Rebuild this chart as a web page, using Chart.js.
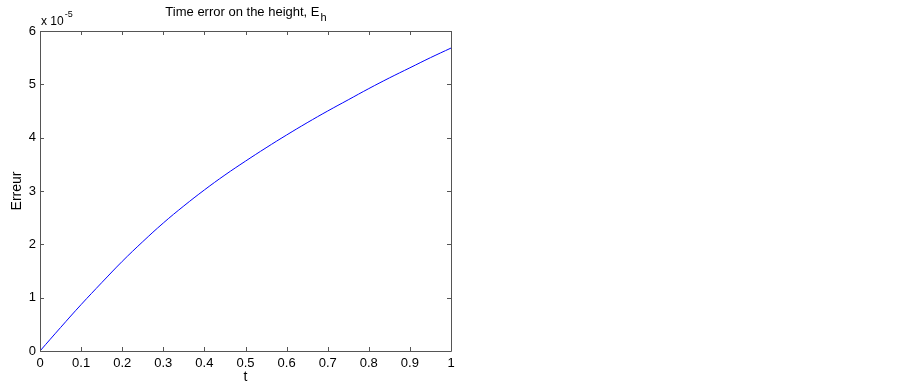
<!DOCTYPE html>
<html>
<head>
<meta charset="utf-8">
<script src="https://cdn.jsdelivr.net/npm/chart.js@4/dist/chart.umd.min.js"></script>
<style>
html,body{margin:0;padding:0;background:#fff;}
#wrap{width:902px;height:385px;position:relative;}
</style>
</head>
<body>
<div id="wrap"><canvas id="c"></canvas></div>
<script>
// Data (error values in units of 1e-5)
const tValues = [0, 0.05, 0.1, 0.15, 0.2, 0.25, 0.3, 0.35, 0.4, 0.45, 0.5, 0.55, 0.6, 0.65, 0.7, 0.75, 0.8, 0.85, 0.9, 0.95, 1.0];
const errValues = [0, 0.44, 0.87, 1.28, 1.68, 2.05, 2.40, 2.72, 3.02, 3.30, 3.56, 3.81, 4.05, 4.28, 4.50, 4.71, 4.92, 5.12, 5.31, 5.50, 5.68];
const xTicks = [0, 0.1, 0.2, 0.3, 0.4, 0.5, 0.6, 0.7, 0.8, 0.9, 1];
const yTicks = [0, 1, 2, 3, 4, 5, 6];
const titleText = "Time error on the height, E";
const titleSub = "h";
const yLabel = "Erreur";
const xLabel = "t";
const expText = "x 10";
const expSup = "-5";

const FONT = '"Liberation Sans", Arial, Helvetica, sans-serif';

const points = tValues.map((t, i) => ({x: t, y: errValues[i]}));

const decorPlugin = {
  id: 'decor',
  afterDraw(chart) {
    const ctx = chart.ctx;
    const a = chart.chartArea;
    const xs = chart.scales.x, ys = chart.scales.y;
    ctx.save();
    // box
    ctx.strokeStyle = '#555';
    ctx.lineWidth = 1;
    ctx.beginPath();
    ctx.rect(Math.round(a.left) + 0.5, Math.round(a.top) + 0.5, Math.round(a.right - a.left), Math.round(a.bottom - a.top));
    ctx.stroke();
    // inward ticks
    const L = 4;
    ctx.beginPath();
    xTicks.forEach(v => {
      const px = Math.round(xs.getPixelForValue(v)) + 0.5;
      ctx.moveTo(px, a.bottom); ctx.lineTo(px, a.bottom - L);
      ctx.moveTo(px, a.top); ctx.lineTo(px, a.top + L);
    });
    yTicks.forEach(v => {
      const py = Math.round(ys.getPixelForValue(v)) + 0.5;
      ctx.moveTo(a.left, py); ctx.lineTo(a.left + L, py);
      ctx.moveTo(a.right, py); ctx.lineTo(a.right - L, py);
    });
    ctx.stroke();
    // texts
    ctx.fillStyle = '#000';
    ctx.textBaseline = 'alphabetic';
    // title with subscript
    const cx = (a.left + a.right) / 2;
    ctx.font = '13px ' + FONT;
    const wMain = ctx.measureText(titleText).width;
    ctx.font = '11px ' + FONT;
    const wSub = ctx.measureText(titleSub).width;
    const startX = cx - (wMain + wSub) / 2;
    ctx.font = '13px ' + FONT;
    ctx.textAlign = 'left';
    ctx.fillText(titleText, startX, 16);
    ctx.font = '11px ' + FONT;
    ctx.fillText(titleSub, startX + wMain + 1, 21);
    // exponent label
    ctx.font = '12px ' + FONT;
    ctx.fillText(expText, a.left + 1, 25);
    const we = ctx.measureText(expText).width;
    ctx.font = '9px ' + FONT;
    ctx.fillText(expSup, a.left + 1 + we + 1, 17);
    // x label
    ctx.font = '14px ' + FONT;
    ctx.textAlign = 'center';
    ctx.fillText(xLabel, cx, 381);
    // y label
    ctx.save();
    ctx.translate(21, (a.top + a.bottom) / 2);
    ctx.rotate(-Math.PI / 2);
    ctx.textAlign = 'center';
    ctx.font = '14px ' + FONT;
    ctx.fillText(yLabel, 0, 0);
    ctx.restore();
    ctx.restore();
  }
};

new Chart(document.getElementById('c'), {
  type: 'line',
  data: {
    datasets: [{
      data: points,
      borderColor: '#0000ff',
      borderWidth: 1,
      pointRadius: 0,
      tension: 0.4,
      fill: false
    }]
  },
  options: {
    responsive: true,
    maintainAspectRatio: false,
    animation: false,
    layout: {padding: {top: 31, right: 451, left: 0, bottom: 0}},
    plugins: {legend: {display: false}, title: {display: false}, tooltip: {enabled: false}},
    scales: {
      x: {
        type: 'linear', min: 0, max: 1,
        afterFit(s) { s.height = 34; },
        afterBuildTicks(s) { s.ticks = xTicks.map(v => ({value: v})); },
        grid: {display: false, drawTicks: false},
        border: {display: false},
        ticks: {color: '#000', font: {family: FONT, size: 13}, padding: 5, maxRotation: 0,
          callback: v => String(Math.round(v * 10) / 10)}
      },
      y: {
        type: 'linear', min: 0, max: 6,
        afterFit(s) { s.width = 40; },
        afterBuildTicks(s) { s.ticks = yTicks.map(v => ({value: v})); },
        grid: {display: false, drawTicks: false},
        border: {display: false},
        ticks: {color: '#000', font: {family: FONT, size: 13}, padding: 4,
          callback: v => String(v)}
      }
    }
  },
  plugins: [decorPlugin]
});
</script>
</body>
</html>
